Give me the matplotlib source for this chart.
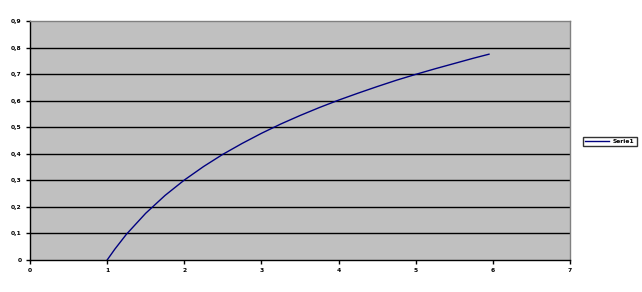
import numpy as np
import matplotlib
matplotlib.use('Agg')
import matplotlib.pyplot as plt

# values
x_vals = [1.0, 1.1, 1.25, 1.5, 1.75, 2.0, 2.25, 2.5, 2.75, 3.0, 3.25, 3.5,
          3.75, 4.0, 4.25, 4.5, 4.75, 5.0, 5.25, 5.5, 5.75, 5.95]
y_vals = [0.0, 0.041, 0.097, 0.176, 0.243, 0.301, 0.352, 0.398, 0.439, 0.477,
          0.512, 0.544, 0.574, 0.602, 0.628, 0.653, 0.677, 0.699, 0.720,
          0.740, 0.760, 0.775]
x_ticks = [0, 1, 2, 3, 4, 5, 6, 7]
y_ticks = [0, 0.1, 0.2, 0.3, 0.4, 0.5, 0.6, 0.7, 0.8]
y_labels = ['0', '0,1', '0,2', '0,3', '0,4', '0,5', '0,6', '0,7', '0,8', '0,9']
series_name = 'Serie1'

W, H = 642, 292
fig = plt.figure(figsize=(W / 100, H / 100), dpi=100)
ax = fig.add_axes([30 / W, 1 - 260 / H, 540 / W, 239 / H])
ax.set_facecolor('#C0C0C0')

ax.plot(x_vals, y_vals, color='#000080', lw=1, label=series_name)

ax.set_xlim(0, 7)
ax.set_ylim(0, 0.9)
ax.set_xticks(x_ticks)
ax.set_xticklabels([str(t) for t in x_ticks])
ax.set_yticks(y_ticks + [0.9])
ax.set_yticklabels(y_labels)
# gridlines only below the top border
for yv in y_ticks[1:]:
    ax.axhline(yv, color='black', lw=1, zorder=0.5)

for s in ['top', 'right']:
    ax.spines[s].set_color('#808080')
    ax.spines[s].set_linewidth(1)
for s in ['left', 'bottom']:
    ax.spines[s].set_color('black')
    ax.spines[s].set_linewidth(1)

ax.tick_params(axis='both', direction='out', length=3, width=1, color='black',
               labelsize=4.3, pad=3)
ax.tick_params(axis='x', pad=2.5)
for lbl in ax.get_xticklabels() + ax.get_yticklabels():
    lbl.set_fontweight('bold')

leg = fig.legend(loc='center left', bbox_to_anchor=(583 / W, 1 - 141.5 / H),
                 frameon=True, fancybox=False, handlelength=4.0,
                 borderpad=0.4, borderaxespad=0, handletextpad=0.6,
                 prop={'size': 4.3, 'weight': 'bold'})
leg.get_frame().set_edgecolor('black')
leg.get_frame().set_linewidth(1)

plt.savefig('out.png', dpi=100)
plt.close()
